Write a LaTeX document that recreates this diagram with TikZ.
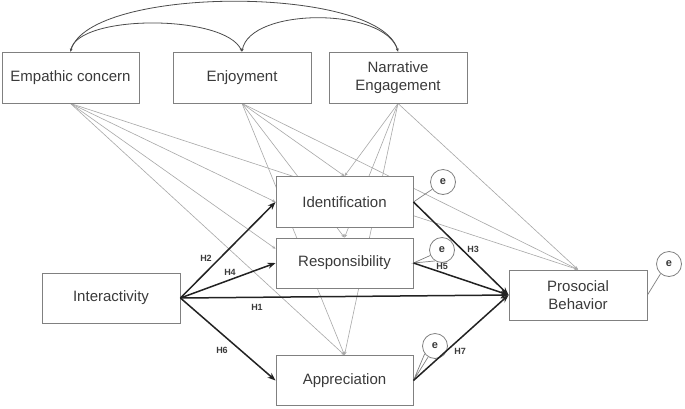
\documentclass[tikz,border=0pt]{standalone}
\usepackage{fontspec}
\setmainfont{Liberation Sans}
\usetikzlibrary{arrows.meta,calc,backgrounds}
\definecolor{txt}{HTML}{3A3A3A}
\definecolor{bord}{HTML}{808080}
\definecolor{thin}{HTML}{A8A8A8}
\definecolor{dark}{HTML}{222222}
\begin{document}
\begin{tikzpicture}[x=1pt,y=-1pt,
 var/.style={draw=bord,line width=0.9pt,fill=white,minimum width=137pt,minimum height=50pt,inner sep=0pt,align=center,font=\fontsize{15}{18}\selectfont,text=txt},
 err/.style={circle,draw=bord,line width=0.8pt,fill=white,minimum size=25pt,inner sep=0pt,font=\fontsize{11}{12}\selectfont\bfseries,text=txt},
 ctrl/.style={draw=thin,line width=0.6pt,-{Stealth[length=3.5pt,width=3pt]}},
 hyp/.style={draw=dark,line width=1.5pt,-{Stealth[length=8pt,width=6pt]}},
 lbl/.style={font=\fontsize{9}{10}\selectfont\bfseries,text=txt,inner sep=0pt},
 cov/.style={draw=black!70,line width=0.8pt,{Stealth[length=3pt,width=2.5pt]}-{Stealth[length=3pt,width=2.5pt]}},
 errl/.style={draw=bord,line width=0.7pt}]
\useasboundingbox (0,0) rectangle (685,408);
% variables
\node[var,minimum width=137pt,minimum height=51pt] (emp) at (70.5,77.5) {Empathic concern};
\node[var,minimum width=138pt,minimum height=51pt] (enj) at (242,77.5) {Enjoyment};
\node[var,minimum width=138pt,minimum height=51pt] (nar) at (398,77.5) {Narrative\\Engagement};
\node[var,minimum height=51pt] (ident) at (344.5,202) {Identification};
\node[var] (resp) at (344.5,263) {Responsibility};
\node[var] (appr) at (344.5,380.5) {Appreciation};
\node[var,minimum width=138pt] (inter) at (111,298) {Interactivity};
\node[var,minimum width=138pt] (pro) at (578,295) {Prosocial\\Behavior};
% error terms
\node[err] (e1) at (443,182) {e};
\node[err] (e2) at (442,250) {e};
\node[err] (e3) at (435,346) {e};
\node[err] (e4) at (669,264) {e};
% control paths (behind the boxes)
\begin{scope}[on background layer]
\fill[white] (0,0) rectangle (685,408);
\draw[ctrl] (emp.south) -- (ident.west);
\draw[ctrl] (emp.south) -- ($(resp.north west)!0.22!(resp.south west)$);
\draw[ctrl] (emp.south) -- (appr.north);
\draw[ctrl] (emp.south) -- (pro.north);
\foreach \s in {enj,nar}{
  \draw[ctrl] (\s.south) -- (ident.north);
  \draw[ctrl] (\s.south) -- (resp.north);
  \draw[ctrl] (\s.south) -- (appr.north);
  \draw[ctrl] (\s.south) -- (pro.north);
}
\end{scope}
% covariances
\draw[cov] (emp.north) .. controls (78,14) and (225,14) .. (enj.north);
\draw[cov] (enj.north) .. controls (250,7) and (385,7) .. (nar.north);
\draw[cov] (emp.north) .. controls (90,-15) and (380,-15) .. (nar.north);
% error paths
\draw[errl] (e1.214) -- (ident.east);
\draw[errl] (e2.205) -- (resp.east) -- (e2.238);
\draw[errl] (e3.217) -- (appr.east) -- (e3.238);
\draw[errl] (e4.229) -- (pro.east);
% hypothesised paths
\draw[hyp] (inter.east) -- (ident.west);
\draw[hyp] (inter.east) -- (resp.west);
\draw[hyp] (inter.east) -- (pro.west);
\draw[hyp] (inter.east) -- (appr.west);
\draw[hyp] (ident.east) -- (pro.west);
\draw[hyp] (resp.east) -- (pro.west);
\draw[hyp] (appr.east) -- (pro.west);
% labels
\node[lbl] (h2) at (206,258) {H2};
\node[lbl] (h4) at (230,272) {H4};
\node[lbl] (h1) at (257,307) {H1};
\node[lbl] (h6) at (222,350) {H6};
\node[lbl] (h3) at (473,249) {H3};
\node[lbl] (h5) at (442,266) {H5};
\node[lbl] (h7) at (460,351) {H7};
\end{tikzpicture}
\end{document}
